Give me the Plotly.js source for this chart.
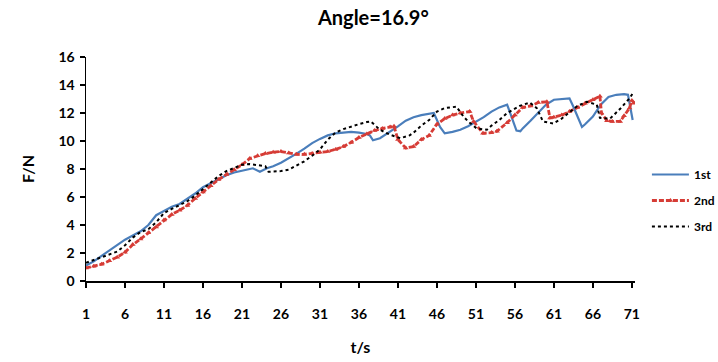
<!DOCTYPE html>
<html>
<head>
<meta charset="utf-8">
<script src="https://cdn.plot.ly/plotly-3.0.1.min.js"></script>
<style>html,body{margin:0;padding:0;background:#fff;}#chart{width:718px;height:362px;}</style>
</head>
<body>
<div id="chart"></div>
<script>
// ---- data ----
const seriesNames = ["1st", "2nd", "3rd"];
const tickValues = [1, 6, 11, 16, 21, 26, 31, 36, 41, 46, 51, 56, 61, 66, 71];
const tickLabels = ["1", "6", "11", "16", "21", "26", "31", "36", "41", "46", "51", "56", "61", "66", "71"];

const t1 = [1,2,3,4,5,6,7,8,9,10,11,12,13,14,15,16,17,18,19,20,21,22,22.4,23.3,24.2,25,26,27,28,29,30,31,32,33,34,35,36,37,37.4,37.8,38.7,40,41,42,43,44,45,45.6,46.4,47,48,49,50,51,52,53,54,55,55.6,56.2,56.7,57,58,59,60,61,62,63,63.5,64.6,65,66,67,68,69,70,70.5,71.1];
const f1 = [1.1,1.4,1.8,2.2,2.6,2.95,3.25,3.55,4.0,4.7,5.0,5.3,5.5,5.85,6.25,6.7,7.0,7.3,7.55,7.75,7.85,8.0,8.05,7.8,8.05,8.2,8.45,8.75,9.1,9.45,9.85,10.15,10.4,10.55,10.6,10.65,10.6,10.5,10.4,10.05,10.2,10.65,11.05,11.45,11.7,11.85,11.95,12.0,11.0,10.55,10.65,10.8,11.05,11.35,11.7,12.1,12.4,12.6,11.6,10.75,10.7,10.9,11.45,12.0,12.6,12.95,13.0,13.05,12.45,11.0,11.2,11.75,12.6,13.15,13.3,13.35,13.3,11.5];

const t2 = [1,2,3,4,5,6,7,8,9,10,11,12,13,14,15,16,17,18,19,20,21,22,23,24,25,26,27,28,29,30,31,32,33,34,35,36,37,38,39,40,40.5,41,42,43,44,45,46,47,48,49,50.2,50.7,51.9,53,53.7,55,56,57,58,59,60.1,60.5,61,62,63,64,65,66,66.9,67.1,67.8,68.5,69.5,70,70.7,71,71.3];
const f2 = [0.93,1.05,1.2,1.45,1.7,2.05,2.6,3.0,3.45,3.85,4.35,4.75,5.05,5.4,5.9,6.35,6.8,7.25,7.6,7.95,8.3,8.75,8.95,9.1,9.2,9.25,9.15,9.05,9.05,9.1,9.2,9.25,9.4,9.6,9.9,10.25,10.5,10.75,10.9,11.0,11.05,10.1,9.5,9.6,10.1,10.4,11.2,11.6,11.85,12.0,12.1,11.4,10.55,10.6,10.7,11.3,11.85,12.4,12.5,12.75,12.8,11.65,11.7,11.85,12.1,12.4,12.7,12.95,13.2,12.0,11.45,11.4,11.4,11.8,12.35,12.9,12.7];

const t3 = [1,2,3,4,5,6,7,8,9,10,11,12,13,14,15,16,17,18,19,20,21,22,23,24,24.4,25,26,27,28,29,30,31,32,33,34,35,36,37,37.5,38.7,40,41.3,42.5,43,44,45,46,47,48.5,49.4,50,51.1,52.4,53,54,55,56,56.6,57.9,58.8,59.6,60.9,62,63.1,64,65.2,66.5,66.9,68.2,69.5,70.7,71.1];
const f3 = [1.3,1.5,1.7,1.85,2.1,2.55,3.1,3.5,3.7,4.2,4.85,5.15,5.4,5.7,6.1,6.55,7.0,7.5,7.85,8.1,8.3,8.35,8.3,8.2,7.8,7.8,7.85,7.95,8.25,8.55,8.95,9.4,10.1,10.6,10.85,11.05,11.2,11.35,11.4,10.8,10.45,10.2,10.4,10.6,11.1,11.5,12.1,12.35,12.45,11.75,11.4,10.9,10.8,11.1,11.5,12.0,12.3,12.5,12.75,12.35,11.4,11.25,11.6,12.1,12.5,12.8,12.6,11.65,11.6,12.3,13.05,13.4];

const FONT = "Lato, 'Open Sans', sans-serif";

const traces = [
  {x: t1, y: f1, name: seriesNames[0], type: "scatter", mode: "lines", legendgroup: "a",
   line: {color: "#4a7ebb", width: 2.2}},
  {x: t2, y: f2, name: seriesNames[1], type: "scatter", mode: "lines+markers", legendgroup: "b",
   line: {color: "#d63c36", width: 2.8, dash: "5px,2px"},
   marker: {symbol: "triangle-up", size: 5, color: "#d63c36"}},
  {x: t3, y: f3, name: seriesNames[2], type: "scatter", mode: "lines", legendgroup: "c",
   line: {color: "#000000", width: 2, dash: "dot"}}
];

const layout = {
  width: 718, height: 362,
  margin: {l: 86, r: 83, t: 57, b: 81, autoexpand: false},
  paper_bgcolor: "#ffffff", plot_bgcolor: "#ffffff",
  font: {family: FONT, color: "#000"},
  title: {text: "<b>Angle=16.9°</b>", font: {family: FONT, size: 20, color: "#000"},
          xref: "container", x: 0.52, xanchor: "center", yref: "container", y: 0.95, yanchor: "middle"},
  showlegend: true,
  legend: {xref: "container", yref: "container", x: 0.901, xanchor: "left", y: 0.558, yanchor: "top",
           tracegroupgap: 7, itemwidth: 37,
           font: {family: FONT, size: 12, color: "#000", weight: "bold"}, bgcolor: "rgba(0,0,0,0)"},
  xaxis: {
    range: [1, 71.4], tickmode: "array", tickvals: tickValues, ticktext: tickLabels,
    showgrid: false, zeroline: false, showline: true, linecolor: "#000", linewidth: 1.5,
    ticks: "outside", ticklen: 5, tickcolor: "#000", tickwidth: 1.5,
    tickfont: {family: FONT, size: 14, color: "#000", weight: "bold"}, ticklabelstandoff: 15,
    title: {text: "<b>t/s</b>", font: {family: FONT, size: 16, color: "#000"}, standoff: 20}
  },
  yaxis: {
    range: [0, 16], dtick: 2, tick0: 0,
    showgrid: false, zeroline: false, showline: true, linecolor: "#000", linewidth: 1.5,
    ticks: "outside", ticklen: 5, tickcolor: "#000", tickwidth: 1.5,
    tickfont: {family: FONT, size: 14, color: "#000", weight: "bold"}, ticklabelstandoff: 2,
    title: {text: "<b>F/N</b>", font: {family: FONT, size: 16, color: "#000"}, standoff: 20}
  }
};

Plotly.newPlot("chart", traces, layout, {displayModeBar: false, staticPlot: true});
</script>
</body>
</html>
